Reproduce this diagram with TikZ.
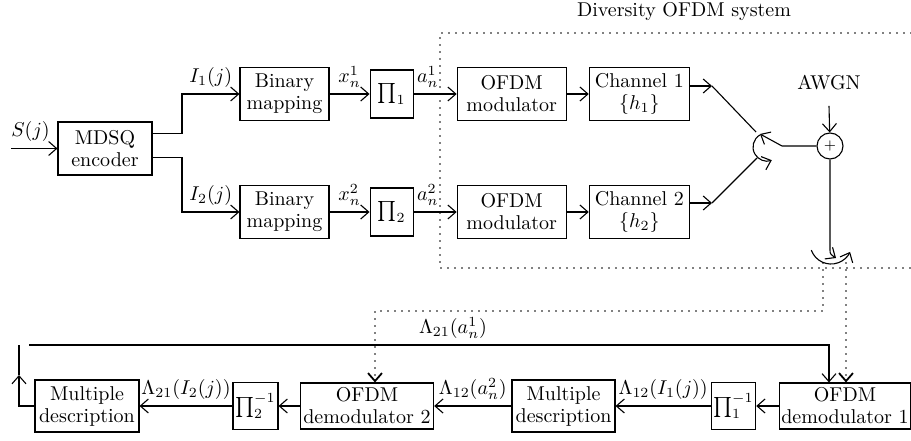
\documentclass[tikz,border=0pt]{standalone}
\usepackage{amsmath}
\usepackage{amssymb}
\usetikzlibrary{positioning,arrows.meta,calc}

\tikzset{
  blk/.style={draw, align=center, inner sep=1.5pt, minimum height=26.5pt},
  pibox/.style={draw, inner sep=1pt, minimum width=21.5pt, minimum height=24pt},
  lbl/.style={above, inner sep=0.5pt, yshift=2.5pt},
  dots/.style={line width=0.9pt, dash pattern=on 0pt off 3.5pt, line cap=round},
}

\begin{document}
\begin{tikzpicture}[x=0.5pt, y=0.5pt, line width=0.55pt,
    font=\fontsize{10}{11}\selectfont,
    >={Straight Barb[length=4pt,width=7pt]}]
    \useasboundingbox (0,0) rectangle (911,440);

    \node[blk, minimum width=47pt] (enc) at (105,291.5) {MDSQ\\encoder};
    \node[blk, minimum width=44.5pt] (bm1) at (284.5,346) {Binary\\mapping};
    \node[pibox, right=20pt of bm1] (pi1) {$\prod_1$};
    \node[blk, minimum width=54.5pt, right=21.5pt of pi1] (mod1) {OFDM\\modulator};
    \node[blk, minimum width=50pt, right=11pt of mod1] (ch1) {Channel 1\\$\{h_1\}$};
    \node[blk, minimum width=44.5pt] (bm2) at (284.5,228) {Binary\\mapping};
    \node[pibox, right=20pt of bm2] (pi2) {$\prod_2$};
    \node[blk, minimum width=54.5pt, right=21.5pt of pi2] (mod2) {OFDM\\modulator};
    \node[blk, minimum width=50pt, right=11pt of mod2] (ch2) {Channel 2\\$\{h_2\}$};

    \node (sysname) at (684,428) {Diversity OFDM system};
    \node[inner sep=0pt] (awgn) at (829,357) {AWGN};
    \node[draw, circle, minimum size=13pt, inner sep=0pt] (plus) at (830,294) {\scriptsize$+$};

    \node[blk, minimum width=52pt, minimum height=26pt] (md1) at (87,34) {Multiple\\description};
    \node[pibox, minimum width=22.5pt, minimum height=23.5pt] (pi2i) at (255.5,34) {$\prod_2^{-1}$};
    \node[blk, minimum width=65pt, minimum height=23pt] (dm2) at (367,34) {OFDM\\demodulator 2};
    \node[blk, minimum width=51.5pt, minimum height=26pt] (md2) at (563.5,34) {Multiple\\description};
    \node[pibox, minimum width=21.5pt, minimum height=23.5pt] (pi1i) at (733.5,34) {$\prod_1^{-1}$};
    \node[blk, minimum width=63.5pt, minimum height=23pt, inner xsep=1pt] (dm1) at (845,34) {OFDM\\demodulator 1};

    \coordinate (src) at (11,291.5);
    \coordinate (br1) at (182,346);
    \coordinate (br2) at (182,228);
    \coordinate (sw1) at (712,354);
    \coordinate (sa1) at (756,308);
    \coordinate (sw2) at (712,237);
    \coordinate (sa2) at (757,282);
    \coordinate (swk) at (782,294);
    \coordinate (swt) at (760,306);
    \coordinate (outk) at (830,191);
    \coordinate (outt) at (836,182);
    \coordinate (tap1) at (823,177);
    \coordinate (tap2) at (846,177);
    \coordinate (mid1) at (375,129);
    \coordinate (fbmid) at (19,65);
    \coordinate (fbtop) at (19,95);
    \coordinate (fbstart) at (29,95);
    \coordinate (fbend) at (829,95);

    \draw[dots] (911,407) -| (440,172) -- (911,172);

    \draw[->] (src) -- node[lbl, pos=0.42] {$S(j)$} (enc);
    \draw[->] ([yshift=7.5pt]enc.east) -| (br1) -- node[lbl] {$I_1(j)$} (bm1);
    \draw[->] ([yshift=-4.5pt]enc.east) -| (br2) -- node[lbl] {$I_2(j)$} (bm2);
    \draw[->] (bm1) -- node[lbl] {$x_n^1$} (pi1);
    \draw[->] (bm2) -- node[lbl] {$x_n^2$} (pi2);
    \draw[->] (pi1) -- node[lbl, pos=0.33] {$a_n^1$} (mod1);
    \draw[->] (pi2) -- node[lbl, pos=0.33] {$a_n^2$} (mod2);
    \draw[->] (mod1) -- (ch1);
    \draw[->] (mod2) -- (ch2);

    \draw[->] ([yshift=4pt]ch1.east) -- (sw1);
    \draw (sw1) -- (sa1);
    \draw[->] ([yshift=4.5pt]ch2.east) -- (sw2);
    \draw (sw2) -- (sa2);
    \draw[->] (plus.west) -- (swk) -- (swt);
    \draw[->] (760,305.1) arc[start angle=120, end angle=290, radius=7pt];
    \draw[->] ([yshift=-7.5pt]awgn.south) -- (plus);
    \draw[->] (plus.south) -- (outk) .. controls (830,186) .. (outt);
    \draw[->] (811.3,189.8) arc[start angle=200, end angle=335, radius=10.5pt];

    \draw[dots, ->] (tap1) |- (mid1) -- (mid1 |- dm2.north);
    \draw[dots, ->] (tap2) -- (tap2 |- dm1.north);

    \draw[->] (dm1) -- (pi1i);
    \draw[->] (pi1i) -- node[lbl] {$\Lambda_{12}(I_1(j))$} (md2);
    \draw[->] (md2) -- node[lbl] {$\Lambda_{12}(a_n^2)$} (dm2);
    \draw[->] (dm2) -- (pi2i);
    \draw[->] (pi2i) -- node[lbl] {$\Lambda_{21}(I_2(j))$} (md1);

    \draw[->] (md1.west) -| (fbmid);
    \draw (fbmid) -- (fbtop);
    \draw[->] (fbstart) -- node[lbl, pos=0.53] {$\Lambda_{21}(a_n^1)$} (fbend) -- (fbend |- dm1.north);
\end{tikzpicture}
\end{document}
